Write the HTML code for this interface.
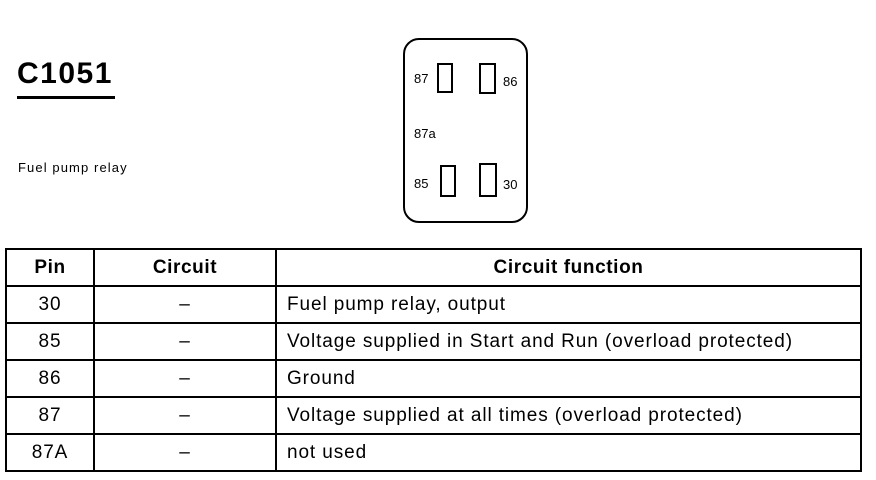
<!DOCTYPE html>
<html><head><style>
body{margin:0;width:876px;height:480px;background:#fff;position:relative;font-family:"Liberation Sans",sans-serif;color:#000;overflow:hidden}
.a{position:absolute}
.s{position:absolute;border:2.5px solid #000;box-sizing:border-box}
.l{position:absolute;font-size:13px}
table{position:absolute;left:5px;top:248px;border-collapse:collapse;table-layout:fixed}
tr{height:37px}
td{border:2px solid #000;height:37px;font-size:19px;letter-spacing:0.9px;padding:0;box-sizing:border-box}
th{border:2px solid #000;height:37px;font-size:19px;letter-spacing:0.6px;font-weight:bold;box-sizing:border-box}
</style></head><body>
<div class="a" style="left:17px;top:57px;font-size:30px;font-weight:bold;letter-spacing:1.5px">C1051</div>
<div class="a" style="left:17px;top:96px;width:98px;height:3px;background:#000"></div>
<div class="a" style="left:18px;top:160px;font-size:13px;letter-spacing:1.1px">Fuel pump relay</div>
<div class="s" style="left:403px;top:38px;width:125px;height:185px;border-radius:16px"></div>
<div class="s" style="left:437px;top:63px;width:16px;height:30px"></div>
<div class="s" style="left:479px;top:63px;width:17px;height:31px"></div>
<div class="s" style="left:440px;top:165px;width:16px;height:32px"></div>
<div class="s" style="left:479px;top:163px;width:18px;height:34px"></div>
<div class="l" style="left:414px;top:71px">87</div>
<div class="l" style="left:503px;top:74px">86</div>
<div class="l" style="left:414px;top:126px">87a</div>
<div class="l" style="left:414px;top:176px">85</div>
<div class="l" style="left:503px;top:177px">30</div>
<table>
<colgroup><col style="width:88px"><col style="width:182px"><col style="width:585px"></colgroup>
<tr><th>Pin</th><th>Circuit</th><th>Circuit function</th></tr>
<tr><td align="center">30</td><td align="center">–</td><td style="padding-left:10px">Fuel pump relay, output</td></tr>
<tr><td align="center">85</td><td align="center">–</td><td style="padding-left:10px">Voltage supplied in Start and Run (overload protected)</td></tr>
<tr><td align="center">86</td><td align="center">–</td><td style="padding-left:10px">Ground</td></tr>
<tr><td align="center">87</td><td align="center">–</td><td style="padding-left:10px">Voltage supplied at all times (overload protected)</td></tr>
<tr><td align="center">87A</td><td align="center">–</td><td style="padding-left:10px">not used</td></tr>
</table>
</body></html>
